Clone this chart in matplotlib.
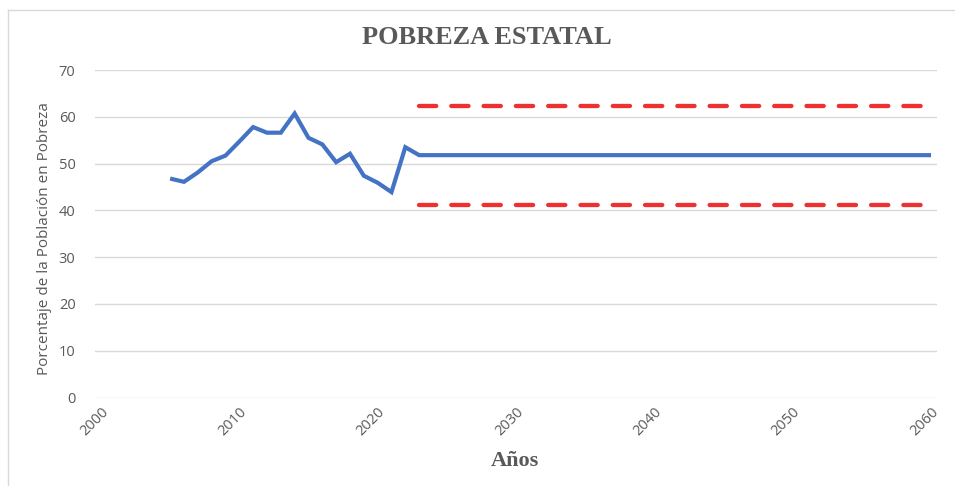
import matplotlib
matplotlib.use("Agg")
import matplotlib.pyplot as plt
from matplotlib.lines import Line2D

# Data
years = [2005, 2006, 2007, 2008, 2009, 2010, 2011, 2012, 2013, 2014, 2015,
         2016, 2017, 2018, 2019, 2020, 2021, 2022, 2023, 2060]
pobreza = [46.8, 46.1, 48.1, 50.5, 51.7, 54.7, 57.8, 56.6, 56.6, 60.7, 55.5,
           54.1, 50.3, 52.1, 47.4, 45.9, 43.9, 53.5, 51.8, 51.8]
band_years = [2023, 2060]
upper_band = [62.4, 62.4]
lower_band = [41.1, 41.1]
x_ticks = [2000, 2010, 2020, 2030, 2040, 2050, 2060]
y_ticks = [0, 10, 20, 30, 40, 50, 60, 70]

title = "POBREZA ESTATAL"
xlabel = "Años"
ylabel = "Porcentaje de la Población en Pobreza"

W, H = 955, 486
fig = plt.figure(figsize=(W / 100, H / 100), dpi=100)
ax = fig.add_axes([95 / W, 1 - 397.5 / H, (937 - 95) / W, (397.5 - 70) / H])

text_color = "#595959"
blue = "#4472C4"
red = "#EE3030"

ax.plot(years, pobreza, color=blue, lw=3.0, solid_joinstyle="miter",
        solid_capstyle="butt", zorder=3)
for band in (upper_band, lower_band):
    ax.plot(band_years, band, color=red, lw=3.1, dashes=(4.0, 3.5),
            dash_capstyle="round", zorder=3)

ax.set_xlim(1999.57, 2060.43)
ax.set_ylim(0, 70)
ax.set_xticks(x_ticks)
ax.set_yticks(y_ticks)
ax.grid(axis="y", color="#d9d9d9", lw=1.0)
ax.set_axisbelow(True)
for s in ax.spines.values():
    s.set_visible(False)
ax.tick_params(axis="both", length=0, labelcolor=text_color)
ax.tick_params(axis="y", pad=14)
ax.tick_params(axis="x", pad=5)
for lab in ax.get_yticklabels():
    lab.set_fontfamily("Open Sans")
    lab.set_fontsize(10.5)
for lab in ax.get_xticklabels():
    lab.set_fontfamily("Open Sans")
    lab.set_fontsize(10.5)
    lab.set_rotation(45)
    lab.set_ha("right")
    lab.set_va("top")
    lab.set_rotation_mode("anchor")

fig.text(487 / W, 1 - 37 / H, title, ha="center", va="center",
         fontfamily="Liberation Serif", fontweight="bold", fontsize=19,
         color=text_color)
fig.text(515 / W, 1 - 461 / H, xlabel, ha="center", va="center",
         fontfamily="Liberation Serif", fontweight="bold", fontsize=16,
         color=text_color)
fig.text(45 / W, 1 - 239 / H, ylabel, ha="center", va="center",
         rotation=90, fontfamily="Open Sans", fontsize=11, color=text_color)

# chart-area border (top and left visible)
fig.add_artist(Line2D([8 / W, 1], [1 - 10 / H, 1 - 10 / H],
                      transform=fig.transFigure, color="#d9d9d9", lw=1))
fig.add_artist(Line2D([8 / W, 8 / W], [1 - 10 / H, 0],
                      transform=fig.transFigure, color="#d9d9d9", lw=1))

fig.savefig("out.png", dpi=100)
